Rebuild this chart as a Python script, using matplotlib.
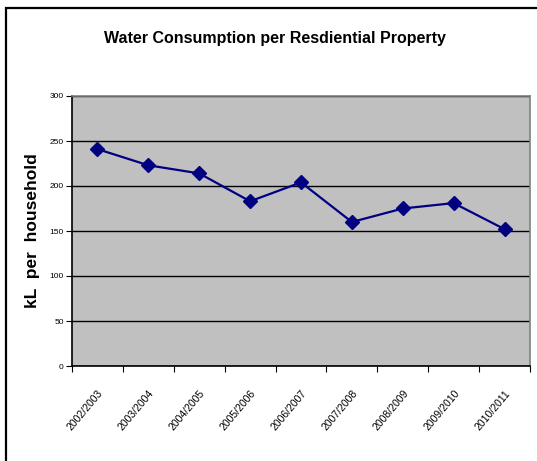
import numpy as np
import matplotlib.pyplot as plt
from matplotlib.patches import Rectangle

years = ["2002/2003", "2003/2004", "2004/2005", "2005/2006", "2006/2007",
         "2007/2008", "2008/2009", "2009/2010", "2010/2011"]
usage = [241, 223, 214, 183, 204, 160, 175, 181, 152]

plt.rcParams['font.family'] = ['Liberation Sans', 'DejaVu Sans']

W, H = 537, 461
fig = plt.figure(figsize=(W / 100, H / 100), dpi=100)
ax = fig.add_axes([72 / W, (H - 366) / H, (530 - 72) / W, (366 - 96) / H])

# outer chart frame
fig.add_artist(Rectangle((6 / W, -0.1), 1.2, (H - 8) / H + 0.1, transform=fig.transFigure,
                         fill=False, edgecolor="black", linewidth=1.6))

ax.set_facecolor("#C0C0C0")
x = np.arange(len(years))
ax.plot(x, usage, color="#000080", linewidth=1.6, marker="D", markersize=7,
        markerfacecolor="#000080", markeredgecolor="#000080")

ax.set_ylim(0, 300)
ax.set_yticks(range(0, 301, 50))
ax.yaxis.grid(True, color="black", linewidth=1)
ax.set_axisbelow(True)
ax.tick_params(axis="y", labelsize=6, length=4, direction="out", pad=2)

ax.set_xlim(-0.5, len(years) - 0.5)
ax.set_xticks(np.arange(-0.5, len(years), 1))
ax.set_xticklabels([])
ax.tick_params(axis="x", which="major", length=4, direction="out")
ax.set_xticks(x, minor=True)
ax.set_xticklabels(years, minor=True, rotation=50, ha="right", rotation_mode="anchor", fontsize=7.5)
ax.tick_params(axis="x", which="minor", length=0, pad=16)

for s in ["left", "bottom"]:
    ax.spines[s].set_color("black")
    ax.spines[s].set_linewidth(1.2)
for s in ["top", "right"]:
    ax.spines[s].set_color("#808080")
    ax.spines[s].set_linewidth(1.2)

ax.set_ylabel("kL  per  household", fontsize=12.5, fontweight="bold")
ax.yaxis.set_label_coords((40 - 72) / (530 - 72), 0.5)
fig.text(275 / W, 1 - 38 / H, "Water Consumption per Resdiential Property",
         ha="center", va="center", fontsize=11.5, fontweight="bold")

fig.savefig("out.png", dpi=100)
